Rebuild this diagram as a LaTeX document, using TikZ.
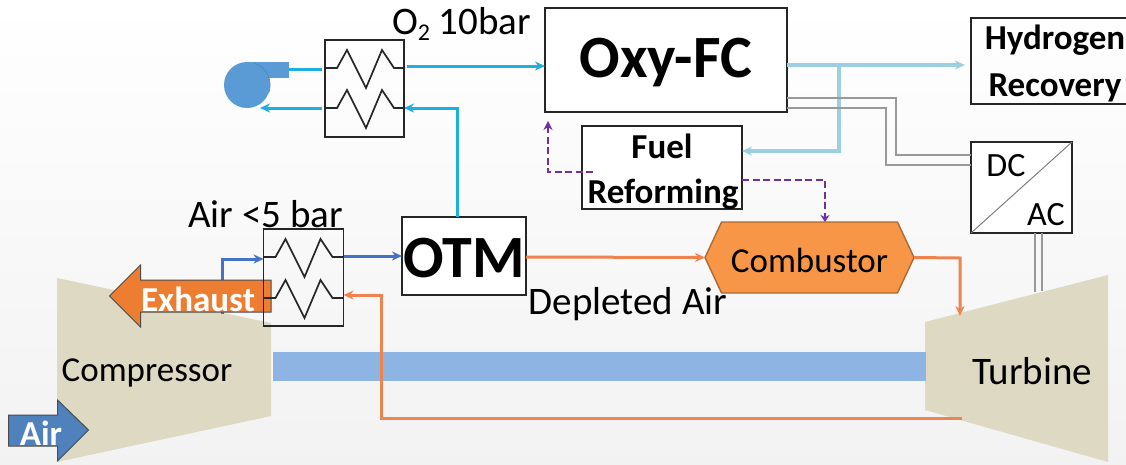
\documentclass[tikz,border=0pt]{standalone}
\usepackage{fontspec}
\setmainfont{Carlito}
\usetikzlibrary{arrows.meta,shapes.symbols,calc}
\definecolor{cyanline}{HTML}{1DAFE0}
\definecolor{paleline}{HTML}{9CCFDF}
\definecolor{orangeline}{HTML}{EE8350}
\definecolor{blueline}{HTML}{4472C4}
\definecolor{purpleline}{HTML}{7030A0}
\definecolor{khaki}{HTML}{DDD9C3}
\definecolor{shaftblue}{HTML}{8EB4E3}
\definecolor{blowerblue}{HTML}{5B9BD5}
\definecolor{exhaustorange}{HTML}{ED7D31}
\definecolor{airblue}{HTML}{4F81BD}
\definecolor{combfill}{HTML}{F79646}
\tikzset{
  x=1pt,y=-1pt,
  boxnode/.style={draw=#1,line width=1.8pt,inner sep=0pt,outer sep=0pt,align=center},
  boxnode/.default={black!85},
  tip/.style={-{Stealth[length=10pt,width=9pt]}},
  cyanflow/.style={cyanline,line width=3pt},
  paleflow/.style={paleline,line width=3.6pt},
  orangeflow/.style={orangeline,line width=3pt},
  blueflow/.style={blueline,line width=3pt},
  purpleflow/.style={purpleline,line width=2.6pt,dash pattern=on 7pt off 3.5pt},
  grayline/.style={black!40,line width=1.4pt},
  coil/.style={black!85,line width=1.7pt,line join=miter},
  lbl/.style={inner sep=0pt,outer sep=0pt,black},
  hxcoil/.pic={
    \draw[coil] (0,0) -- (12,0) -- (22,-18) -- (41,20) -- (57,-18) -- (69,0) -- (80,0);
  },
}
\begin{document}
\begin{tikzpicture}
\useasboundingbox (0,0) rectangle (1126,464);
\shade[top color=white,bottom color=white!95!black] (0,0) rectangle (1126,464);

% machines
\fill[khaki] (57,278) -- (271,323) -- (271,416) -- (57,462) -- cycle;
\fill[khaki] (925,322) -- (1108,275) -- (1108,462) -- (925,410) -- cycle;
\fill[shaftblue] (273,352) rectangle (926,381);
\node[lbl,font=\fontsize{35}{35}\selectfont] (comp) at (147,373) {Compressor};
\node[lbl,font=\fontsize{39}{39}\selectfont] (turb) at (1032,371) {Turbine};

% boxes
\node[boxnode,fill=white,minimum width=242pt,minimum height=104pt] (oxy) at (666,60) {};
\node[lbl,font=\fontsize{60}{60}\bfseries\selectfont] (oxylbl) at (666,63) {Oxy-FC};
\node[boxnode,fill=white,minimum width=160pt,minimum height=83pt] (fuel) at (662,167.5) {};
\node[lbl,font=\fontsize{35}{35}\bfseries\selectfont] (fuela) at (662,146) {Fuel};
\node[lbl,font=\fontsize{35}{35}\bfseries\selectfont] (fuelb) at (663,194) {Reforming};
\node[inner sep=0pt,outer sep=0pt,minimum width=155pt,minimum height=86pt] (hyd) at (1048.5,61) {};
\draw[black!85,line width=1.7pt] (hyd.north east) -- (hyd.north west) -- (hyd.south west) -- (hyd.south east);
\node[lbl,font=\fontsize{35}{35}\bfseries\selectfont] (hyda) at (1055,40) {Hydrogen};
\node[lbl,font=\fontsize{35}{35}\bfseries\selectfont] (hydb) at (1055,88) {Recovery};
\node[boxnode,fill=white,minimum width=101pt,minimum height=91pt] (dcac) at (1021.5,187.5) {};
\draw[black!50,line width=1pt] (dcac.south west) -- (dcac.north east);
\node[lbl,font=\fontsize{34}{34}\selectfont] (dc) at (1006,166) {DC};
\node[lbl,font=\fontsize{34}{34}\selectfont] (ac) at (1046,215) {AC};
\node[boxnode,fill=white,minimum width=124pt,minimum height=78pt] (otm) at (464,256) {};
\node[lbl,font=\fontsize{60}{60}\bfseries\selectfont] (otmlbl) at (464,258) {OTM};
\node[signal,signal to=east and west,signal pointer angle=130,draw=black!30!combfill,fill=combfill,line width=1.4pt,inner sep=0pt,outer sep=0pt,minimum width=209pt,minimum height=71pt] (comb) at (809.5,257.5) {};
\node[lbl,font=\fontsize{35}{35}\selectfont] (comblbl) at (809.5,260) {Combustor};

% heat exchangers
\node[boxnode,minimum width=79pt,minimum height=97pt] (hxa) at (364.5,88.5) {};
\node[boxnode,minimum width=80pt,minimum height=97pt] (hxb) at (303.5,277.5) {};

% blower
\fill[blowerblue] (247,62) rectangle (289,78);
\fill[blowerblue] (247,85) circle (23);
\draw[black!15!blowerblue,line width=.6pt] (255,63.5) arc (-70:20:23);
\coordinate (blowout) at (289,69);
\coordinate (blowin) at (260,108);

% flows top-left
\draw[cyanflow] (hxa.west |- 0,69) ++(-3,0) coordinate (a1) (a1) -- (blowout);
\draw[cyanflow,tip] (hxa.west |- 0,108) ++(-3,0) coordinate (a2) (a2) -- (blowin);
\draw[cyanflow,tip] (hxa.east |- 0,66) ++(3,0) coordinate (a3) (a3) -- (oxy.west |- 0,66);
\draw[cyanflow,tip] (otm.north -| 457,0) -- (457,108) -- (hxa.east |- 0,108);

\draw[coil] (hxa.west |- 0,68) pic {hxcoil};
\draw[coil] (hxa.west |- 0,108) pic {hxcoil};

% flows from fuel cell
\draw[paleflow,tip] (oxy.east |- 0,65) -- (965,65);
\draw[paleflow,tip] (839,65) -- (839,151) -- (fuel.east |- 0,151);
\draw[grayline] (oxy.east |- 0,98) -- (896,98) -- (896,155) -- (dcac.west |- 0,155);
\draw[grayline] (oxy.east |- 0,108) -- (886,108) -- (886,165) -- (dcac.west |- 0,165);
\draw[grayline] (dcac.south -| 1035,0) -- (1035,292);
\draw[grayline] (dcac.south -| 1042,0) -- (1042,291);

% purple
\draw[purpleflow,-{Stealth[length=9pt,width=9pt]}] (593,172) -- (548,172) -- (548,121);
\draw[purpleflow,-{Stealth[length=7pt,width=9pt]}] (fuel.east |- 0,180) -- (825,180) -- (825,222);

% hot path
\coordinate (turbin) at (960,316);
\coordinate (turbout) at (962,418);
\draw[orangeflow,tip] (otm.east |- 0,257) -- (comb.west);
\draw[orangeflow,tip] (comb.east) -- (960,258) -- (turbin);
\draw[orangeflow,tip] (turbout) -- (381,418) -- (381,295) -- (hxb.east |- 0,295);

% low pressure air
\draw[blueflow,tip] (222,314) -- (222,259) -- (hxb.west |- 0,259);
\draw[blueflow,tip] (hxb.east |- 0,256) -- (otm.west |- 0,256);

% exhaust arrow
\filldraw[fill=exhaustorange,draw=black!70,line width=1pt] (271,280) -- (140.5,280) -- (140.5,265) -- (109.5,296) -- (140.5,327) -- (140.5,312) -- (271,312) -- cycle;
\node[lbl,text=white,font=\fontsize{35}{35}\bfseries\selectfont] (exh) at (198,299) {Exhaust};

% redraw exchanger over arrow
\draw[black!85,line width=1.8pt] (hxb.north west) rectangle (hxb.south east);
\draw[coil] (hxb.west |- 0,257) pic {hxcoil};
\draw[coil] (hxb.west |- 0,298) pic {hxcoil};

% air arrow
\filldraw[fill=airblue,draw=black!70,line width=1pt] (8.6,415) -- (57.5,415) -- (57.5,400) -- (88.5,430) -- (57.5,461) -- (57.5,446) -- (8.6,446) -- cycle;
\node[lbl,text=white,font=\fontsize{35}{35}\bfseries\selectfont] (air) at (41,433) {Air};

% labels
\node[lbl,anchor=base west,font=\fontsize{39}{39}\selectfont] (o2) at (392,34) {O\raisebox{-6pt}{\fontsize{24}{24}\selectfont 2} 10bar};
\node[lbl,font=\fontsize{39}{39}\selectfont] (airp) at (265.5,214) {Air <5 bar};
\node[lbl,font=\fontsize{39}{39}\selectfont] (dep) at (628,304) {Depleted Air};
\end{tikzpicture}
\end{document}
